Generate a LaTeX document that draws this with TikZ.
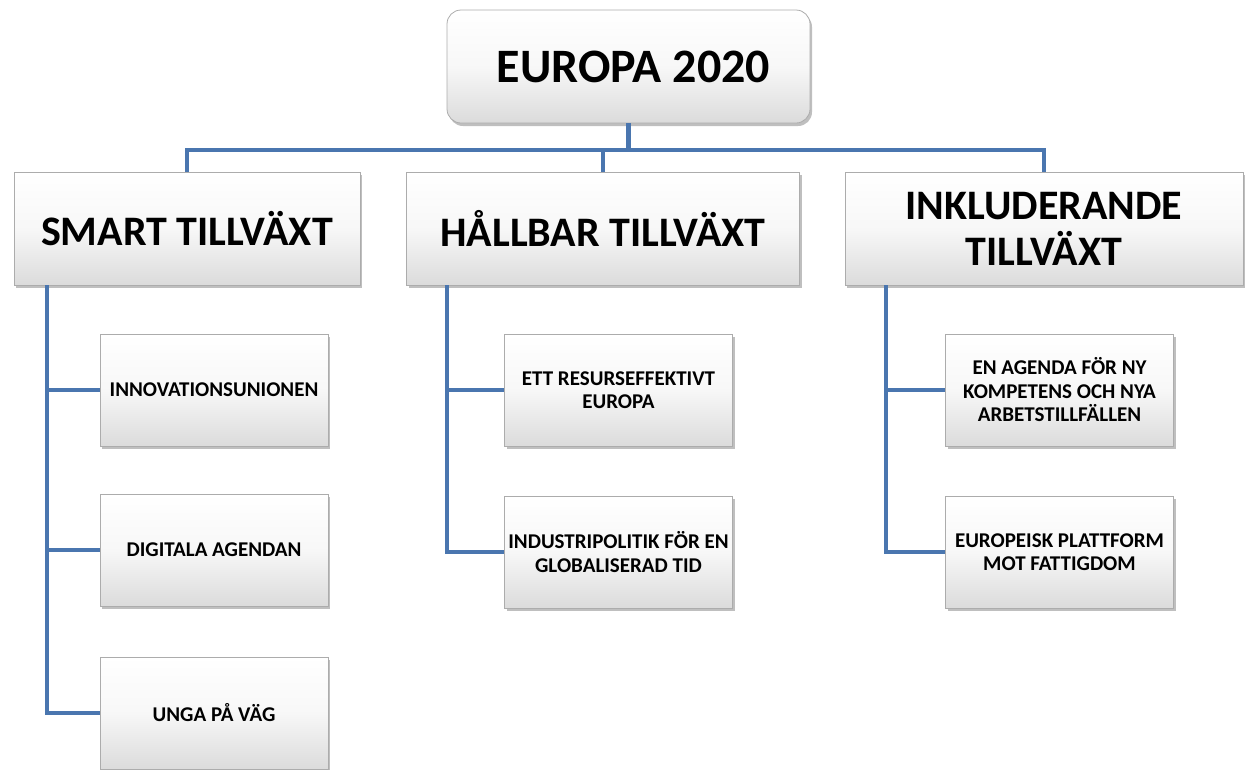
\documentclass[tikz,border=0pt]{standalone}
\usepackage{fontspec}
\setmainfont{Carlito}
\usetikzlibrary{shadows}
\definecolor{conn}{RGB}{74,118,175}
\tikzset{
  boxbase/.style={draw=gray!65, line width=0.8pt, top color=white, bottom color=gray!28,
    middle color=gray!6, shading angle=0,
    drop shadow={shadow xshift=2pt, shadow yshift=-3pt, fill=black, opacity=0.25},
    align=center, font=\bfseries, inner sep=2pt},
  topbox/.style={boxbase, rounded corners=14pt, minimum width=363pt, minimum height=113pt, font=\bfseries\fontsize{48}{54}\selectfont},
  midbox/.style={boxbase, minimum height=113pt, font=\bfseries\fontsize{42}{46}\selectfont},
  leafbox/.style={boxbase, minimum width=228pt, minimum height=112pt, font=\bfseries\fontsize{21}{23.5}\selectfont},
  link/.style={draw=conn, line width=4.5pt}
}
\begin{document}
\begin{tikzpicture}[x=1pt,y=-1pt]
\useasboundingbox (0,0) rectangle (1246,769);
% nodes
\node[topbox] (top) at (628.5,66.5) {\hspace*{10pt}EUROPA 2020};
\node[midbox, minimum width=346pt] (smart) at (187,228.5) {SMART TILLVÄXT};
\node[midbox, minimum width=393pt] (hall) at (603,228.5) {HÅLLBAR TILLVÄXT};
\node[midbox, minimum width=398pt] (incl) at (1044,228.5) {INKLUDERANDE\\TILLVÄXT};
\node[leafbox] (s1) at (214,390) {INNOVATIONSUNIONEN};
\node[leafbox] (s2) at (214,550) {DIGITALA AGENDAN};
\node[leafbox] (s3) at (214,713) {UNGA PÅ VÄG};
\node[leafbox] (h1) at (618.5,390) {ETT RESURSEFFEKTIVT\\EUROPA};
\node[leafbox] (h2) at (618.5,552) {INDUSTRIPOLITIK FÖR EN\\GLOBALISERAD TID};
\node[leafbox] (i1) at (1059.5,390) {EN AGENDA FÖR NY\\KOMPETENS OCH NYA\\ARBETSTILLFÄLLEN};
\node[leafbox] (i2) at (1059.5,552) {EUROPEISK PLATTFORM\\MOT FATTIGDOM};
% coordinates
\coordinate (bus) at (0,150);
\coordinate (sx) at (47,0);
\coordinate (hx) at (447,0);
\coordinate (ix) at (886,0);
% connectors
\draw[link] (top.south) -- (top.south |- bus);
\draw[link] (smart.north) -- (smart.north |- bus) -- (incl.north |- bus) -- (incl.north);
\draw[link] (hall.north |- bus) -- (hall.north);
\draw[link] (smart.south -| sx) |- (s3.west);
\draw[link] (s1.west) -- (s1.west -| sx);
\draw[link] (s2.west) -- (s2.west -| sx);
\draw[link] (hall.south -| hx) |- (h2.west);
\draw[link] (h1.west) -- (h1.west -| hx);
\draw[link] (incl.south -| ix) |- (i2.west);
\draw[link] (i1.west) -- (i1.west -| ix);
\end{tikzpicture}
\end{document}
